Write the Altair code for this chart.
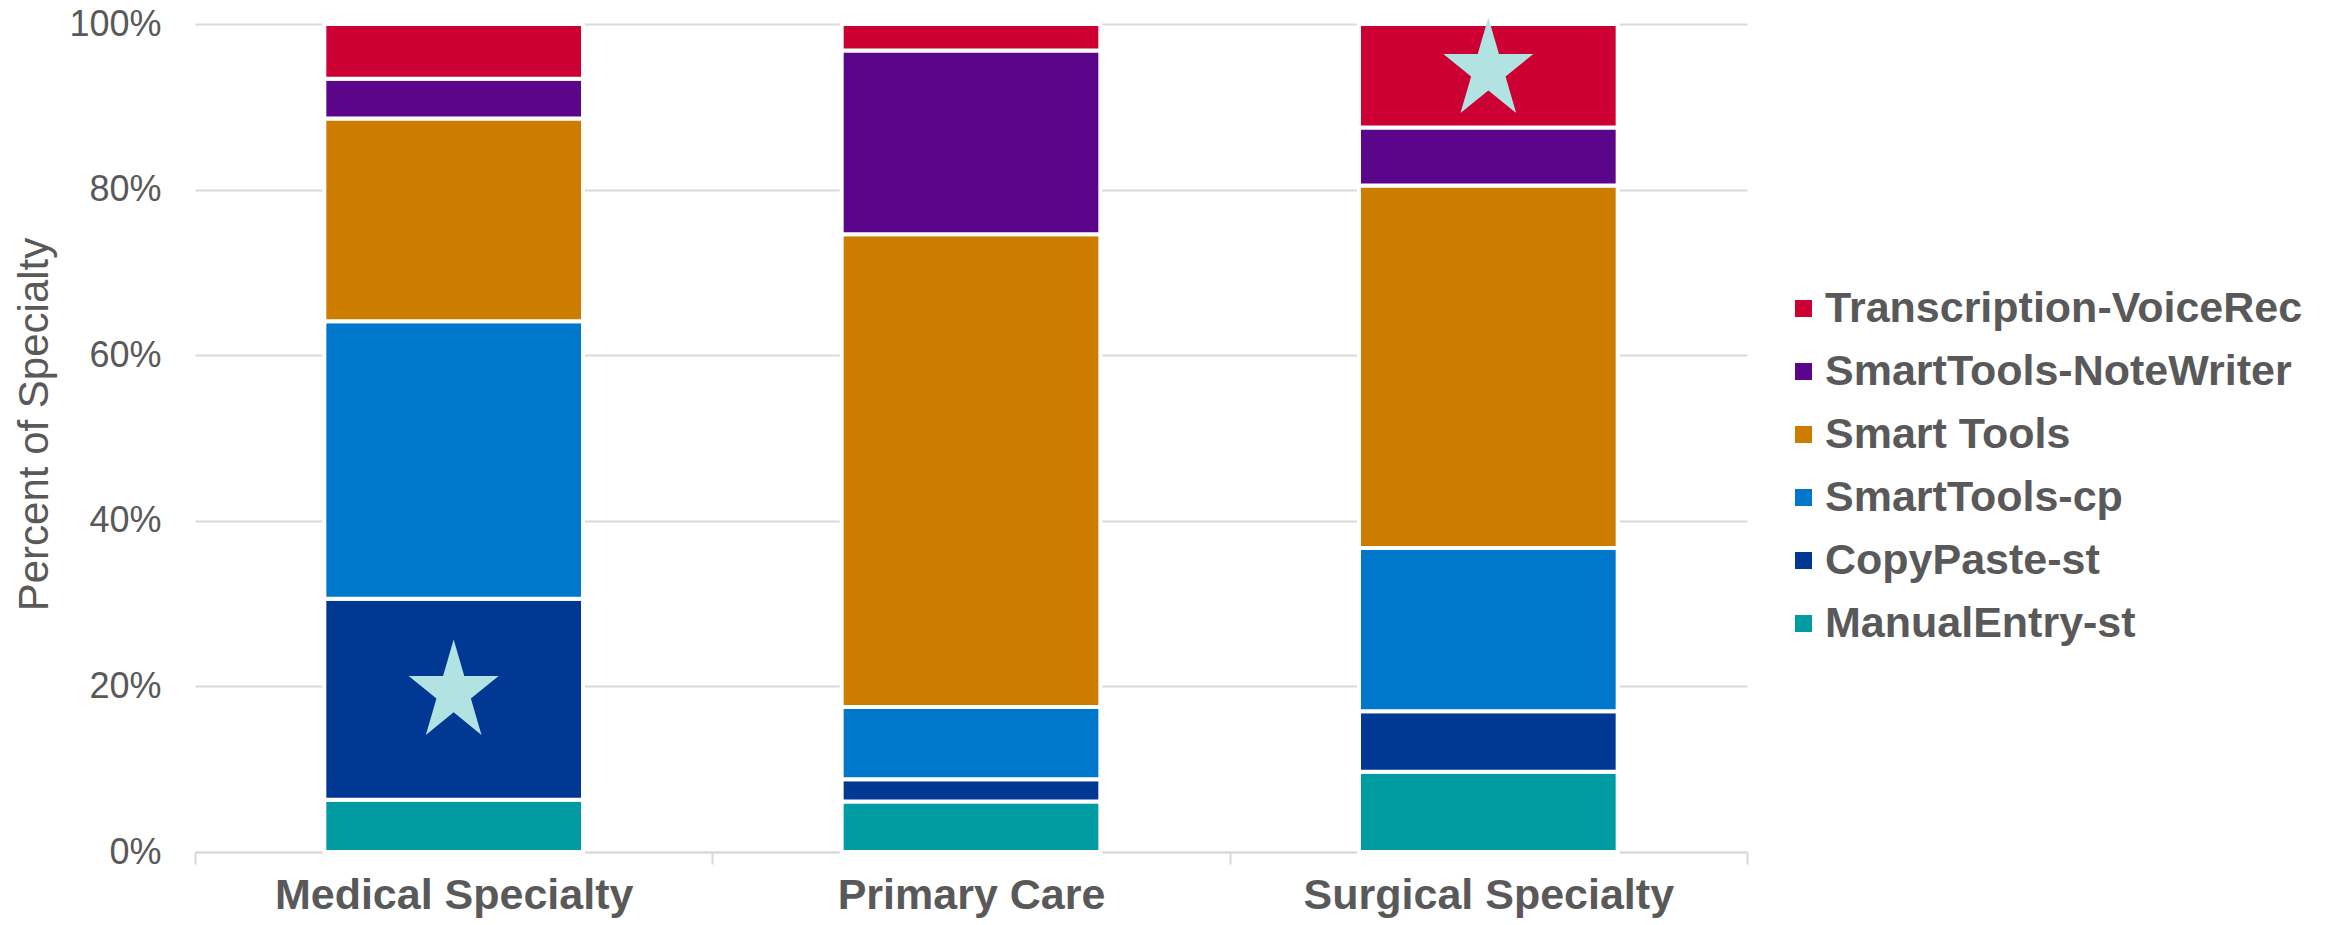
import altair as alt
import pandas as pd

categories = ["Medical Specialty", "Primary Care", "Surgical Specialty"]
# stack order, bottom to top
methods = ["ManualEntry-st", "CopyPaste-st", "SmartTools-cp", "Smart Tools",
           "SmartTools-NoteWriter", "Transcription-VoiceRec"]
manual_entry = [6.3, 6.1, 9.7]
copy_paste = [24.3, 2.7, 7.3]
smarttools_cp = [33.5, 8.7, 19.7]
smart_tools = [24.5, 57.1, 43.8]
note_writer = [4.8, 22.2, 7.0]
transcription = [6.6, 3.2, 12.5]

star_categories = ["Medical Specialty", "Surgical Specialty"]
star_values = [19.3, 94.4]

legend_order = ["Transcription-VoiceRec", "SmartTools-NoteWriter", "Smart Tools",
                "SmartTools-cp", "CopyPaste-st", "ManualEntry-st"]
colors = ["#CC0033", "#5B068A", "#CC7D00", "#0077CB", "#003893", "#009BA3"]

series = [manual_entry, copy_paste, smarttools_cp, smart_tools, note_writer, transcription]
rows = []
for mi, (m, vals) in enumerate(zip(methods, series)):
    for c, v in zip(categories, vals):
        rows.append({"Specialty": c, "Method": m, "Value": v, "Order": mi})
df = pd.DataFrame(rows)
stars = pd.DataFrame({"Specialty": star_categories, "Value": star_values})

FONT = "Liberation Sans"
GREY = "#595959"

# five-pointed star drawn in the unit square (-1..1)
STAR_PATH = ("M0,-1 L0.201,-0.309 L0.852,-0.309 L0.326,0.118 L0.527,0.809 "
             "L0,0.382 L-0.527,0.809 L-0.326,0.118 L-0.852,-0.309 L-0.201,-0.309 Z")

x_enc = alt.X("Specialty:N", sort=categories,
              scale=alt.Scale(paddingInner=0, paddingOuter=0),
              axis=alt.Axis(title=None, labelAngle=0, labelFont=FONT, labelFontSize=43,
                            labelFontWeight="bold", labelColor=GREY, labelLimit=800,
                            labelBaseline="alphabetic", labelPadding=44,
                            domain=True, domainColor="#D9D9D9", domainWidth=2,
                            ticks=True, tickBand="extent", tickSize=12,
                            tickColor="#D9D9D9", tickWidth=2, grid=False))
y_scale = alt.Scale(domain=[0, 100], nice=False)
y_axis = alt.Axis(title="Percent of Specialty", values=[0, 20, 40, 60, 80, 100],
                  labelExpr="datum.value + '%'", labelFont=FONT, labelFontSize=36,
                  labelColor=GREY, labelPadding=34, ticks=False, domain=False,
                  grid=True, gridColor="#D9D9D9", gridWidth=2,
                  titleFont=FONT, titleFontSize=42, titleFontWeight="normal",
                  titleColor=GREY, titleAngle=-90, titleBaseline="alphabetic",
                  titleAlign="center", titleX=-148, titleY=400)

bars = alt.Chart(df).mark_bar(stroke="white", strokeWidth=4,
                              width=alt.RelativeBandSize(0.5)).encode(
    x=x_enc,
    y=alt.Y("Value:Q", stack="zero", scale=y_scale, axis=y_axis),
    color=alt.Color("Method:N", scale=alt.Scale(domain=legend_order, range=colors),
                    legend=alt.Legend(title=None, orient="none", legendX=1587, legendY=263,
                                      symbolType="square", symbolSize=289,
                                      symbolStrokeWidth=0, labelFont=FONT,
                                      labelFontSize=43, labelFontWeight="bold",
                                      labelColor=GREY, labelOffset=0, rowPadding=19,
                                      padding=0, labelLimit=800)),
    order=alt.Order("Order:Q", sort="ascending"),
)

star_layer = alt.Chart(stars).mark_point(shape=STAR_PATH, filled=True, size=11150,
                                         color="#B2E3E3", opacity=1, strokeWidth=0).encode(
    x=alt.X("Specialty:N", sort=categories),
    y=alt.Y("Value:Q", scale=y_scale),
)

chart = alt.layer(bars, star_layer).properties(
    width=1552, height=828,
    autosize=alt.AutoSizeParams(type="none"),
    padding={"left": 187, "top": 16, "right": 575, "bottom": 70},
).configure_view(stroke=None)

chart.save("out.html", embed_options={"renderer": "svg", "actions": False})
